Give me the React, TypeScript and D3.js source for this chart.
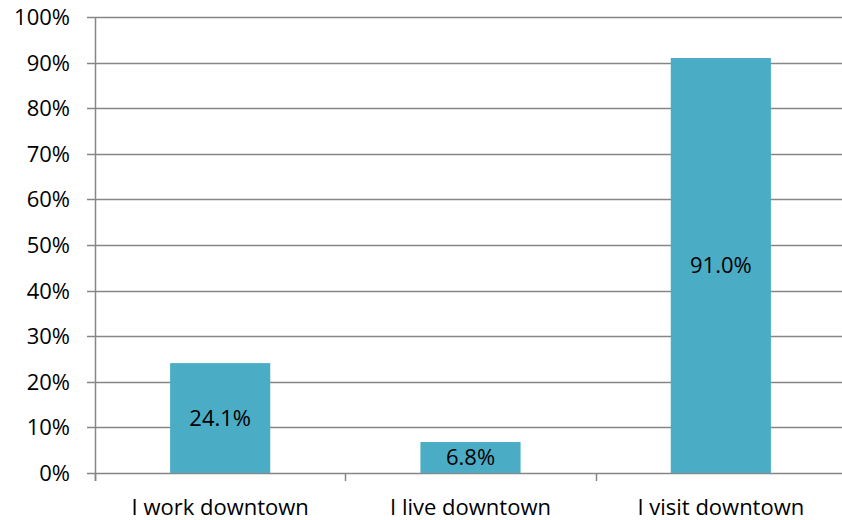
import { useEffect, useRef } from 'react';
import * as d3 from 'd3';

const CATEGORIES = ['I work downtown', 'I live downtown', 'I visit downtown'];
const VALUES = [24.1, 6.8, 91.0];
const Y_TICKS = [0, 10, 20, 30, 40, 50, 60, 70, 80, 90, 100];

const COLORS = {
  bar: '#4bacc6',
  grid: '#868686',
  text: '#000000',
};

const FONT = '"Open Sans", "Liberation Sans", sans-serif';
const FONT_SIZE = '22px';

export default function App() {
  const svgRef = useRef<SVGSVGElement>(null);
  const width = 842;
  const height = 520;

  useEffect(() => {
    if (!svgRef.current) return;
    const svg = d3.select(svgRef.current);
    svg.selectAll('*').remove();

    const margin = { top: 17, right: -4, bottom: 47, left: 95 };
    const innerWidth = width - margin.left - margin.right;
    const innerHeight = height - margin.top - margin.bottom;

    const x = d3.scaleBand()
      .domain(CATEGORIES)
      .range([0, innerWidth])
      .paddingInner(0.6)
      .paddingOuter(0.3);

    const y = d3.scaleLinear().domain([0, 100]).range([innerHeight, 0]);

    const g = svg.append('g')
      .attr('transform', `translate(${margin.left},${margin.top})`);

    // gridlines with left tick stubs
    g.append('g')
      .selectAll('line')
      .data(Y_TICKS)
      .join('line')
      .attr('x1', -8)
      .attr('x2', innerWidth)
      .attr('y1', d => Math.round(y(d)) + 0.5)
      .attr('y2', d => Math.round(y(d)) + 0.5)
      .attr('stroke', COLORS.grid)
      .attr('stroke-width', 1.5);

    // y tick labels
    g.append('g')
      .selectAll('text')
      .data(Y_TICKS)
      .join('text')
      .attr('x', -25)
      .attr('y', d => y(d))
      .attr('dy', '0.36em')
      .attr('text-anchor', 'end')
      .attr('font-family', FONT)
      .attr('font-size', FONT_SIZE)
      .attr('fill', COLORS.text)
      .text(d => `${d}%`);

    // bars
    g.append('g')
      .selectAll('rect')
      .data(VALUES)
      .join('rect')
      .attr('x', (_, i) => x(CATEGORIES[i]) || 0)
      .attr('y', d => y(d))
      .attr('width', x.bandwidth())
      .attr('height', d => innerHeight - y(d))
      .attr('fill', COLORS.bar);

    // bar labels
    g.append('g')
      .selectAll('text')
      .data(VALUES)
      .join('text')
      .attr('x', (_, i) => (x(CATEGORIES[i]) || 0) + x.bandwidth() / 2)
      .attr('y', d => (y(d) + innerHeight) / 2)
      .attr('dy', '0.36em')
      .attr('text-anchor', 'middle')
      .attr('font-family', FONT)
      .attr('font-size', FONT_SIZE)
      .attr('fill', COLORS.text)
      .text(d => `${d.toFixed(1)}%`);

    // axis line
    g.append('line')
      .attr('x1', 0.5).attr('x2', 0.5)
      .attr('y1', 0).attr('y2', innerHeight + 8)
      .attr('stroke', COLORS.grid)
      .attr('stroke-width', 1.5);

    const step = x.step();
    const bounds = d3.range(CATEGORIES.length + 1).map(i => i * step);
    g.append('g')
      .selectAll('line')
      .data(bounds)
      .join('line')
      .attr('x1', d => Math.round(d) + 0.5)
      .attr('x2', d => Math.round(d) + 0.5)
      .attr('y1', innerHeight)
      .attr('y2', innerHeight + 8)
      .attr('stroke', COLORS.grid)
      .attr('stroke-width', 1.5);

    // category labels
    g.append('g')
      .selectAll('text')
      .data(CATEGORIES)
      .join('text')
      .attr('x', d => (x(d) || 0) + x.bandwidth() / 2)
      .attr('y', innerHeight + 42)
      .attr('text-anchor', 'middle')
      .attr('font-family', FONT)
      .attr('font-size', FONT_SIZE)
      .attr('fill', COLORS.text)
      .text(d => d);
  }, []);

  return (
    <div style={{ position: 'absolute', left: 0, top: 0 }}>
      <svg ref={svgRef} width={width} height={height} style={{ display: 'block', background: '#fff' }} />
    </div>
  );
}
